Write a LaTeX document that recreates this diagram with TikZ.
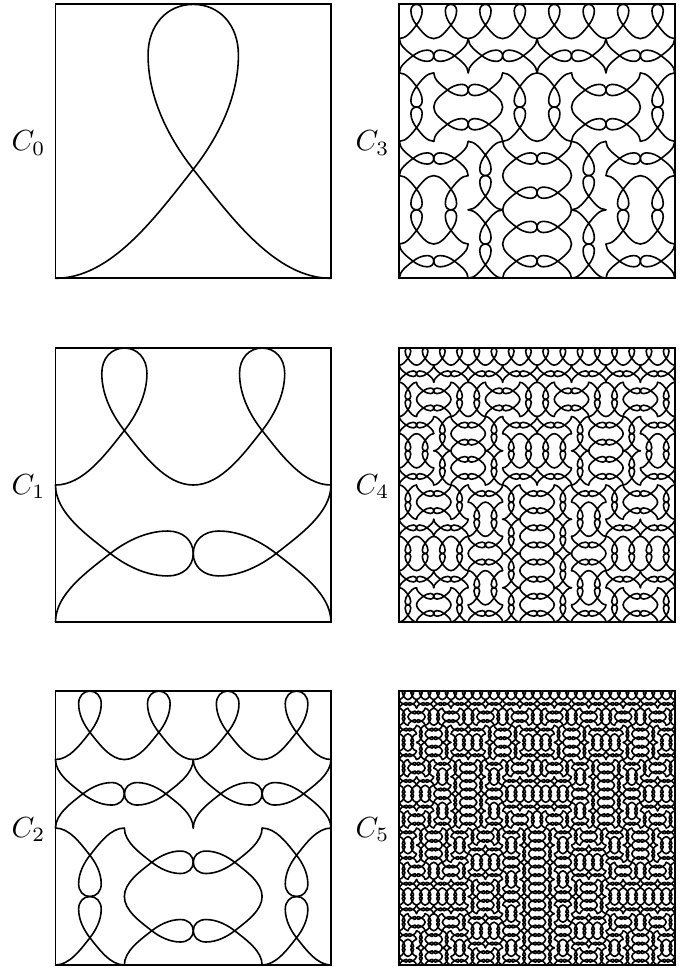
\documentclass[tikz,border=0pt]{standalone}
\usepackage{amsmath,amssymb}
\usetikzlibrary{calc}

\tikzset{
  curveline/.style={black, line width=0.58pt, line cap=round, line join=round},
  boxline/.style={black, line width=0.65pt},
}

\newcommand{\basecurve}{%
\draw[curveline] (0,0) .. controls (0.2,0) and (0.36,0.219) .. (0.5,0.398)
  .. controls (0.58,0.5) and (0.664,0.65) .. (0.664,0.815)
  .. controls (0.664,0.925) and (0.595,1) .. (0.5,1)
  .. controls (0.405,1) and (0.336,0.925) .. (0.336,0.815)
  .. controls (0.336,0.65) and (0.42,0.5) .. (0.5,0.398)
  .. controls (0.64,0.219) and (0.8,0) .. (1,0);%
}

\newcommand{\loopcurve}[1]{%
\ifnum#1=0 \basecurve
\else
\begin{scope}[cm={0,0.5,0.5,0,(0,0)}]\expandafter\loopcurve\expandafter{\the\numexpr#1-1\relax}\end{scope}%
\begin{scope}[cm={0.5,0,0,0.5,(0,0.5)}]\expandafter\loopcurve\expandafter{\the\numexpr#1-1\relax}\end{scope}%
\begin{scope}[cm={0.5,0,0,0.5,(0.5,0.5)}]\expandafter\loopcurve\expandafter{\the\numexpr#1-1\relax}\end{scope}%
\begin{scope}[cm={0,-0.5,-0.5,0,(1,0.5)}]\expandafter\loopcurve\expandafter{\the\numexpr#1-1\relax}\end{scope}%
\fi}

\begin{document}
\begin{tikzpicture}
\useasboundingbox (0,0) rectangle (8.702,12.298);
\foreach \lev/\xpos/\ypos in {0/0.705/8.762, 1/0.705/4.396, 2/0.705/0.038, 3/5.073/8.762, 4/5.073/4.396, 5/5.073/0.038} {
\begin{scope}[shift={(\xpos,\ypos)}, xscale=3.5, yscale=3.48]
\loopcurve{\lev}
\draw[boxline] (0,0) rectangle (1,1);
\node[scale=1.05] (label\lev) at (-0.0975,0.494) {$C_{\lev}$};
\end{scope}
}
\end{tikzpicture}
\end{document}
